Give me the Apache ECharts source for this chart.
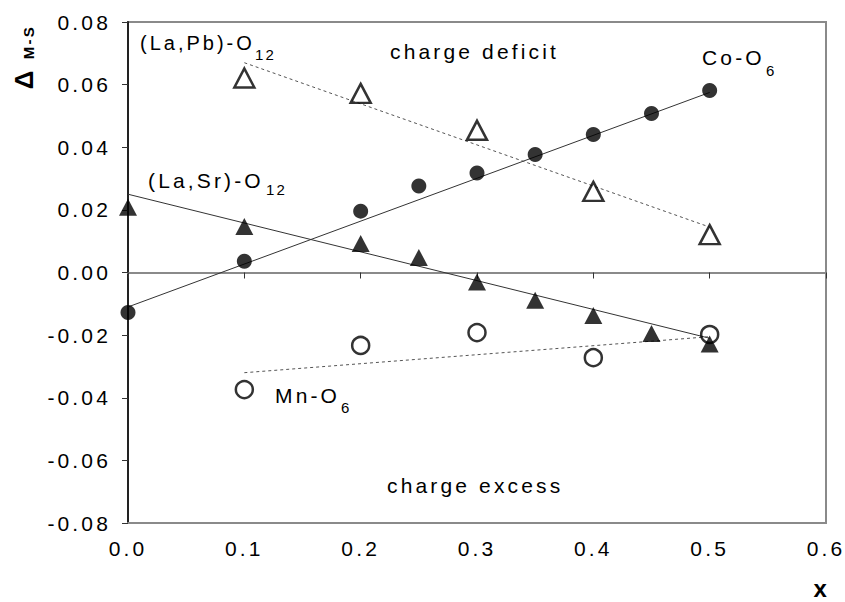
<!DOCTYPE html>
<html>
<head>
<meta charset="utf-8">
<script src="https://cdn.jsdelivr.net/npm/echarts@6/dist/echarts.min.js"></script>
<style>
html, body { margin: 0; padding: 0; background: #fff; }
#chart { width: 845px; height: 602px; }
#chart text { letter-spacing: 0.15em; }
</style>
</head>
<body>
<div id="chart"></div>
<script>
// measured points
const coX = [0, 0.1, 0.2, 0.25, 0.3, 0.35, 0.4, 0.45, 0.5];
const coY = [-0.0128, 0.0036, 0.0196, 0.0276, 0.0318, 0.0377, 0.0441, 0.0508, 0.0581];
const laSrX = [0, 0.1, 0.2, 0.25, 0.3, 0.35, 0.4, 0.45, 0.5];
const laSrY = [0.0208, 0.0147, 0.0093, 0.0048, -0.003, -0.0089, -0.0137, -0.0195, -0.0228];
const laPbX = [0.1, 0.2, 0.3, 0.4, 0.5];
const laPbY = [0.0621, 0.0572, 0.0454, 0.0259, 0.0121];
const mnX = [0.1, 0.2, 0.3, 0.4, 0.5];
const mnY = [-0.0374, -0.0233, -0.0192, -0.0272, -0.0198];

// fitted lines (end points)
const coFitX = [0, 0.5];
const coFitY = [-0.011, 0.0575];
const laSrFitX = [0, 0.5];
const laSrFitY = [0.025, -0.021];
const laPbFitX = [0.1, 0.5];
const laPbFitY = [0.067, 0.0145];
const mnFitX = [0.1, 0.5];
const mnFitY = [-0.032, -0.0205];

const FONT = '"Liberation Sans", Arial, sans-serif';

function pairs(xs, ys) {
  return xs.map((x, i) => [x, ys[i]]);
}

function txt(x, y, text, size, bold) {
  return {
    type: 'text',
    x: x,
    y: y,
    silent: true,
    style: {
      text: text,
      font: (bold ? 'bold ' : '') + size + 'px ' + FONT,
      fill: '#000',
      textAlign: 'left',
      textVerticalAlign: 'middle'
    }
  };
}

function fitLine(xs, ys, dashed) {
  return {
    type: 'line',
    data: pairs(xs, ys),
    symbol: 'none',
    silent: true,
    z: 1,
    lineStyle: {
      color: dashed ? '#555' : '#333',
      width: 1,
      type: dashed ? [3, 3] : 'solid'
    }
  };
}

const chart = echarts.init(document.getElementById('chart'), null, { renderer: 'svg' });

const yFmt = (v) => (Math.abs(v) < 1e-9 ? 0 : v).toFixed(2);

// rotated y axis name (reads bottom to top)
const yName = txt(24, 78, 'Δ', 26, true);
yName.rotation = Math.PI / 2;
yName.style.textAlign = 'center';

const yNameSub = txt(28, 42, 'M-S', 15, true);
yNameSub.rotation = Math.PI / 2;
yNameSub.style.textAlign = 'center';

const xName = txt(822, 588, 'x', 24, true);
xName.style.textAlign = 'center';

chart.setOption({
  animation: false,
  backgroundColor: '#fff',
  grid: {
    left: 128,
    right: 19,
    top: 22,
    bottom: 79,
    show: true,
    borderColor: '#8a8a8a',
    borderWidth: 2
  },
  xAxis: [
    {
      type: 'value',
      min: 0,
      max: 0.6,
      interval: 0.1,
      position: 'bottom',
      axisLine: { onZero: false, show: true, lineStyle: { color: '#8a8a8a', width: 2 } },
      axisTick: { show: false },
      splitLine: { show: false },
      axisLabel: {
        show: true,
        showMinLabel: true,
        showMaxLabel: true,
        margin: 15,
        color: '#000',
        fontSize: 21,
        fontFamily: FONT,
        formatter: (v) => v.toFixed(1)
      }
    },
    {
      type: 'value',
      min: 0,
      max: 0.6,
      interval: 0.1,
      position: 'bottom',
      axisLine: { onZero: true, show: true, lineStyle: { color: '#8a8a8a', width: 2 } },
      axisTick: { show: true, length: 6, lineStyle: { color: '#333', width: 1 } },
      splitLine: { show: false },
      axisLabel: { show: false }
    }
  ],
  yAxis: {
    type: 'value',
    min: -0.08,
    max: 0.08,
    interval: 0.02,
    axisLine: { show: true, lineStyle: { color: '#222', width: 2 } },
    axisTick: { show: true, length: 6, lineStyle: { color: '#333', width: 1 } },
    splitLine: { show: false },
    axisLabel: {
      showMinLabel: true,
      showMaxLabel: true,
      margin: 17,
      color: '#000',
      fontSize: 21,
      fontFamily: FONT,
      formatter: yFmt
    }
  },
  graphic: [
    yName,
    yNameSub,
    xName,
    // series labels
    txt(140, 43, '(La,Pb)-O', 20),
    txt(255, 54, '12', 15),
    txt(148, 180, '(La,Sr)-O', 21),
    txt(266, 189, '12', 15),
    txt(702, 57, 'Co-O', 21),
    txt(766, 70, '6', 15),
    txt(275, 395, 'Mn-O', 21),
    txt(341, 407, '6', 15),
    txt(390, 51, 'charge deficit', 21),
    txt(387, 485, 'charge excess', 21)
  ],
  series: [
    fitLine(coFitX, coFitY, false),
    fitLine(laSrFitX, laSrFitY, false),
    fitLine(laPbFitX, laPbFitY, true),
    fitLine(mnFitX, mnFitY, true),
    {
      name: 'Co-O6',
      type: 'scatter',
      data: pairs(coX, coY),
      symbol: 'circle',
      symbolSize: 15,
      z: 3,
      itemStyle: { color: '#000' }
    },
    {
      name: '(La,Sr)-O12',
      type: 'scatter',
      data: pairs(laSrX, laSrY),
      symbol: 'triangle',
      symbolSize: [18, 17],
      z: 3,
      itemStyle: { color: '#000' }
    },
    {
      name: '(La,Pb)-O12',
      type: 'scatter',
      data: pairs(laPbX, laPbY),
      symbol: 'triangle',
      symbolSize: [20, 19],
      z: 3,
      itemStyle: { color: 'rgba(0,0,0,0)', borderColor: '#000', borderWidth: 2.5 }
    },
    {
      name: 'Mn-O6',
      type: 'scatter',
      data: pairs(mnX, mnY),
      symbol: 'circle',
      symbolSize: 17,
      z: 3,
      itemStyle: { color: 'rgba(0,0,0,0)', borderColor: '#000', borderWidth: 2.5 }
    }
  ]
});
</script>
</body>
</html>
